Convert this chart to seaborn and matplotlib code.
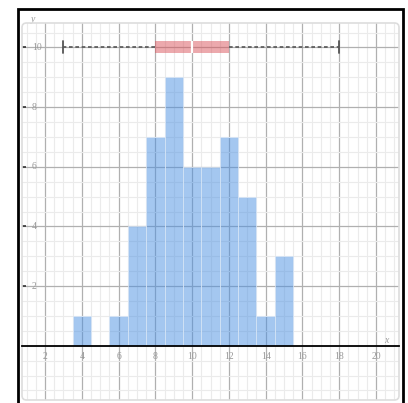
import matplotlib
matplotlib.use('Agg')
import matplotlib.pyplot as plt
import seaborn as sns
from matplotlib.patches import Rectangle, FancyBboxPatch
from matplotlib.ticker import MultipleLocator

# histogram data (bin centre -> count, bins of width 1)
bin_centers = [4, 5, 6, 7, 8, 9, 10, 11, 12, 13, 14, 15]
counts = [1, 0, 1, 4, 7, 9, 6, 6, 7, 5, 1, 3]

# boxplot summary drawn at y = 10
box_min = 3
box_q1 = 8
box_med = 10
box_q3 = 12
box_max = 18
box_y = 10

x_ticks = [2, 4, 6, 8, 10, 12, 14, 16, 18, 20]
y_ticks = [2, 4, 6, 8, 10]

sns.set_theme(style='white')
plt.rcParams['font.family'] = ['Liberation Serif', 'DejaVu Serif']

fig = plt.figure(figsize=(4.08, 4.03), dpi=100)
W, H = 408, 403
ax = fig.add_axes([22 / W, (H - 400) / H, 377 / W, 377 / H])

# grid
ax.set_xlim(0.75, 21.25)
ax.set_ylim(-1.82, 10.82)
ax.xaxis.set_major_locator(MultipleLocator(2))
ax.yaxis.set_major_locator(MultipleLocator(2))
ax.xaxis.set_minor_locator(MultipleLocator(0.5))
ax.yaxis.set_minor_locator(MultipleLocator(0.5))
ax.grid(which='major', color='#b0b0b0', linewidth=0.9)
ax.grid(which='minor', color='#ebebeb', linewidth=0.8)
ax.set_axisbelow(True)

# histogram
sns.histplot(x=bin_centers, weights=counts, discrete=True, ax=ax,
             color='#4a90e2', alpha=0.5, edgecolor='#dce9f8', linewidth=0.5)

# boxplot
stats = [{'whislo': box_min, 'q1': box_q1, 'med': box_med,
          'q3': box_q3, 'whishi': box_max}]
ax.bxp(stats, positions=[box_y], orientation='horizontal', widths=0.4,
       patch_artist=True, showfliers=False, capwidths=0.4,
       boxprops=dict(facecolor=(0.86, 0.33, 0.36, 0.5), edgecolor='none'),
       medianprops=dict(color='white', linewidth=1.6),
       whiskerprops=dict(color='#555555', linewidth=1.2, linestyle=(0, (2.2, 1.6))),
       capprops=dict(color='#555555', linewidth=1.3))

ax.set_xlim(0.75, 21.25)
ax.set_ylim(-1.82, 10.82)
ax.set_xticks(x_ticks)
ax.set_yticks(y_ticks)
ax.set_xticklabels([str(t) for t in x_ticks])
ax.set_yticklabels([str(t) for t in y_ticks])

# axes: x axis at y = 0, y labels pinned to the left edge
for s in ['top', 'right', 'left']:
    ax.spines[s].set_visible(False)
ax.spines['bottom'].set_position(('data', 0))
ax.spines['bottom'].set_color('black')
ax.spines['bottom'].set_linewidth(1.3)
ax.tick_params(axis='x', which='major', direction='inout', length=5, width=0.9,
               color='#333333', labelsize=7, labelcolor='#999999', pad=2)
ax.tick_params(axis='y', which='major', direction='in', length=3, width=1.2,
               color='#333333', labelsize=7, labelcolor='#999999', pad=-7, left=True)
ax.tick_params(which='minor', length=0)
for lab in ax.get_yticklabels():
    lab.set_horizontalalignment('left')
    lab.set_verticalalignment('center')

ax.set_xlabel('x', fontstyle='italic', color='#999999', fontsize=7)
ax.xaxis.set_label_coords((386 - 22) / 377, (400 - 336) / 377)
ax.set_ylabel('y', fontstyle='italic', color='#999999', fontsize=7, rotation=0)
ax.yaxis.set_label_coords((33 - 22) / 377, (400 - 24) / 377)

# rounded panel border
ax.add_patch(FancyBboxPatch((0, 0), 1, 1, boxstyle='round,pad=0,rounding_size=0.012',
                            transform=ax.transAxes, fill=False, edgecolor='#dddddd',
                            linewidth=1.2, clip_on=False))

# outer black frame
fig.patches.append(Rectangle((17.5 / W, -0.1), (402.5 - 17.5) / W, 1.1 - 8.5 / H,
                             transform=fig.transFigure, fill=False,
                             edgecolor='black', linewidth=2.0))

fig.savefig('out.png', dpi=100)
